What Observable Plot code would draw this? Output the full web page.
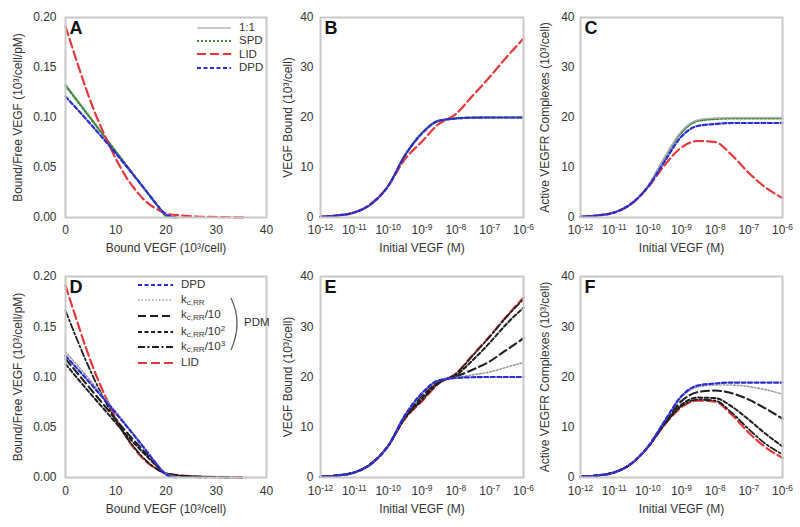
<!DOCTYPE html>
<html><head><meta charset="utf-8">
<script src="https://cdn.jsdelivr.net/npm/d3@7"></script>
<script src="https://cdn.jsdelivr.net/npm/@observablehq/plot@0.6"></script>
<style>
body{margin:0;background:#fff;}
#wrap{position:relative;width:800px;height:527px;overflow:hidden;font-family:"Liberation Sans",Arial,sans-serif;background:#fff;}
.panel{position:absolute;}
.panel svg{overflow:visible;}
.legend{position:absolute;font-size:11.5px;color:#333;line-height:1;}
.legend .row{display:flex;align-items:center;white-space:nowrap;}
.legend .row span{margin-left:8px;}
.legend sub{font-size:0.7em;vertical-align:-0.3em;}
.legend sup{font-size:0.7em;vertical-align:0.45em;}
</style></head><body><div id="wrap"></div>
<script>
// ---------- shared x (initial VEGF, M) ----------
const logX = [1e-12,3e-12,1e-11,3e-11,1e-10,3e-10,1e-9,3e-9,1e-8,3e-8,1e-7,3e-7,1e-6];
const logTicks = [1e-12,1e-11,1e-10,1e-9,1e-8,1e-7,1e-6];
const logTickLabels = ["10^-12","10^-11","10^-10","10^-9","10^-8","10^-7","10^-6"];
const linTicks = [0,10,20,30,40];
const scatTicks = [0,0.05,0.10,0.15,0.20];

// ---------- Panel A : Scatchard ----------
const A_one_x = [0,20,24];          const A_one_y = [0.133,0,0];
const A_SPD_x = [0,5,10,15,20,22];  const A_SPD_y = [0.132,0.099,0.066,0.033,0.001,0];
const A_DPD_x = [0,4,8,12,16,18,20,22];
const A_DPD_y = [0.121,0.099,0.076,0.052,0.027,0.014,0.003,0];
const A_LID_x = [0,2,4,6,8,10,12,14,16,18,20,23,26,30,36];
const A_LID_y = [0.191,0.160,0.130,0.103,0.080,0.059,0.041,0.027,0.016,0.009,0.004,0.002,0.001,0.0005,0];

// ---------- Panel B : VEGF bound ----------
const B_one = [0.15,0.4,1.0,2.6,6.3,12.3,17.0,19.4,19.85,20,20,20,20];
const B_SPD = [0.15,0.4,1.0,2.6,6.3,12.2,16.9,19.3,19.8,20,20,20,20];
const B_DPD = [0.15,0.4,1.0,2.6,6.3,12.2,16.8,19.3,19.8,19.95,20,20,20];
const B_LID = [0.15,0.4,1.0,2.7,6.3,11.5,15.2,18.6,20.7,24.2,28.1,31.9,35.8];

// ---------- Panel C : active complexes ----------
const C_one = [0.15,0.4,1.0,2.6,6.2,11.8,17.3,19.5,19.9,20,20,20,20];
const C_SPD = [0.15,0.4,1.0,2.6,6.2,11.7,17.0,19.3,19.7,19.8,19.8,19.8,19.8];
const C_DPD = [0.15,0.4,1.0,2.6,6.1,11.0,16.2,18.3,18.7,18.9,18.9,18.9,18.9];
const C_LID = [0.15,0.4,1.0,2.6,6.0,10.3,14.0,15.3,15.1,12.6,8.9,6.1,3.9];

// ---------- Panel D : Scatchard, PDM ----------
const D_DPD_x = A_DPD_x, D_DPD_y = A_DPD_y;
const D_kc_x = [0,4,8,12,16,18,20,22,23];
const D_kc_y = [0.125,0.102,0.078,0.053,0.028,0.015,0.004,0.001,0];
const D_kc10_x = [0,4,8,12,16,18,20,24,28];
const D_kc10_y = [0.118,0.094,0.070,0.046,0.024,0.013,0.004,0.001,0];
const D_kc100_x = [0,4,8,12,16,18,20,25,33];
const D_kc100_y = [0.113,0.089,0.066,0.043,0.022,0.012,0.004,0.001,0];
const D_kc1000_x = [0,2,4,6,8,10,12,14,16,18,20,24,30,35];
const D_kc1000_y = [0.166,0.141,0.117,0.095,0.075,0.057,0.041,0.028,0.017,0.009,0.004,0.0015,0.0005,0];
const D_LID_x = A_LID_x, D_LID_y = A_LID_y;

// ---------- Panel E : VEGF bound, PDM ----------
const E_DPD = B_DPD;
const E_kc = [0.15,0.4,1.0,2.6,6.3,12.1,16.6,19.2,19.9,20.4,21.0,21.9,22.9];
const E_kc10 = [0.15,0.4,1.0,2.6,6.3,12.0,16.3,19.1,20.1,21.4,23.1,25.3,27.7];
const E_kc100 = [0.15,0.4,1.0,2.6,6.3,11.8,15.8,18.9,20.3,23.2,26.8,30.4,33.8];
const E_kc1000 = [0.15,0.4,1.0,2.7,6.3,11.6,15.4,18.7,20.6,24.1,28.0,31.8,35.5];
const E_LID = B_LID;

// ---------- Panel F : active complexes, PDM ----------
const F_DPD = C_DPD;
const F_kc = [0.15,0.4,1.0,2.6,6.1,11.0,16.0,18.0,18.4,18.4,18.1,17.5,16.6];
const F_kc10 = [0.15,0.4,1.0,2.6,6.1,10.8,15.2,17.0,17.3,16.8,15.5,13.8,11.7];
const F_kc100 = [0.15,0.4,1.0,2.6,6.0,10.5,14.5,15.9,15.8,14.2,11.5,8.8,6.2];
const F_kc1000 = [0.15,0.4,1.0,2.6,6.0,10.4,14.2,15.5,15.3,13.0,9.6,6.8,4.6];
const F_LID = C_LID;

// ---------- styles ----------
const STY = {
  one:    {stroke:"#b4b4b4", dash:null,      width:1.6},
  SPD:    {stroke:"#3d8a3d", dash:"2,2",     width:2.2},
  LID:    {stroke:"#e5363c", dash:"9,4",     width:2.2},
  DPD:    {stroke:"#2a2ad2", dash:"4,2.5",   width:2.2},
  kc:     {stroke:"#9a9a9a", dash:"1.5,2",   width:1.6},
  kc10:   {stroke:"#1e1e1e", dash:"8,4",     width:2.1},
  kc100:  {stroke:"#1e1e1e", dash:"4,2.5",   width:2.0},
  kc1000: {stroke:"#1e1e1e", dash:"7,2.5,2,2.5", width:1.8}
};

const TEXT_COLOR = "#333";
const FONT = "Liberation Sans, Arial, sans-serif";

function supTicks(svg){
  d3.select(svg).selectAll("text").each(function(){
    const m = /^10\^(-?\d+)$/.exec(this.textContent);
    if (m) {
      const el = d3.select(this);
      el.text("10");
      el.append("tspan").attr("dy","-0.45em").attr("font-size","0.7em").text(m[1]);
    }
  });
}

function panel(cfg){
  const marks = cfg.series.map(s => {
    const st = STY[s.key];
    const rows = s.x.map((xv,i)=>({x:xv, y:s.y[i]}));
    return Plot.line(rows, {x:"x", y:"y", stroke:st.stroke, strokeWidth:st.width,
      strokeDasharray: st.dash || undefined, curve: s.curve || "monotone-x"});
  });
  const xOpts = cfg.logx
    ? {type:"log", domain:[1e-12,1e-6]}
    : {domain:[0,40]};
  const xTicks = cfg.logx ? logTicks : linTicks;
  const xFmt = cfg.logx ? (d => logTickLabels[logTicks.findIndex(t => Math.abs(Math.log10(t)-Math.log10(d))<1e-6)]) : (d => String(d));
  const yTicks = cfg.scat ? scatTicks : linTicks;
  const yFmt = cfg.scat ? d3.format(".2f") : (d => String(d));
  const svg = Plot.plot({
    width: cfg.w, height: cfg.h,
    marginLeft: cfg.ml, marginRight: cfg.mr, marginTop: cfg.mt, marginBottom: cfg.mb,
    style:{fontFamily:FONT, fontSize:"12px", color:TEXT_COLOR, background:"transparent", overflow:"visible"},
    x: xOpts,
    y: {domain: cfg.scat ? [0,0.2] : [0,40]},
    marks: [
      Plot.axisX({ticks:xTicks, tickFormat:xFmt, tickSize:0, tickPadding:cfg.xtp, fontSize:12,
        label:cfg.xlabel, labelAnchor:"center", labelArrow:"none", labelOffset:cfg.xlo}),
      Plot.axisY({ticks:yTicks, tickFormat:yFmt, tickSize:0, tickPadding:cfg.ytp, fontSize:12,
        label:cfg.ylabel, labelAnchor:"center", labelArrow:"none", labelOffset:cfg.ylo}),
      ...marks,
      Plot.frame({stroke:"#c8c8c8", strokeWidth:2}),
      Plot.text([cfg.letter], {text:d=>d, frameAnchor:"top-left", dx:4, dy:4, fontSize:18,
        fontWeight:"bold", fill:"#111", textAnchor:"start", lineAnchor:"top"})
    ]
  });
  supTicks(svg);
  const div = document.createElement("div");
  div.className = "panel";
  div.style.left = cfg.left + "px";
  div.style.top = cfg.top + "px";
  div.appendChild(svg);
  document.getElementById("wrap").appendChild(div);
}

const XL_S = "Bound VEGF (10³/cell)";
const XL_L = "Initial VEGF (M)";
const YL_S = "Bound/Free VEGF (10³/cell/pM)";
const YL_B = "VEGF Bound (10³/cell)";
const YL_C = "Active VEGFR Complexes (10³/cell)";

const top1 = {top:0, h:260, mt:17, mb:43, xlo:34, xtp:8};
const top2 = {top:260, h:267, mt:16, mb:50, xlo:35, xtp:9};
const colA = {left:0, w:268, ml:65, mr:2, ylo:52, ytp:9};
const colB = {left:268, w:262, ml:52, mr:7, ylo:37, ytp:7};
const colC = {left:530, w:270, ml:50, mr:18, ylo:40, ytp:6};

panel({...top1, ...colA, letter:"A", scat:true, xlabel:XL_S, ylabel:YL_S, series:[
  {key:"one", x:A_one_x, y:A_one_y, curve:"linear"},
  {key:"SPD", x:A_SPD_x, y:A_SPD_y, curve:"linear"},
  {key:"LID", x:A_LID_x, y:A_LID_y},
  {key:"DPD", x:A_DPD_x, y:A_DPD_y}]});
panel({...top1, ...colB, letter:"B", logx:true, xlabel:XL_L, ylabel:YL_B, series:[
  {key:"one", x:logX, y:B_one},
  {key:"SPD", x:logX, y:B_SPD},
  {key:"LID", x:logX, y:B_LID},
  {key:"DPD", x:logX, y:B_DPD}]});
panel({...top1, ...colC, letter:"C", logx:true, xlabel:XL_L, ylabel:YL_C, series:[
  {key:"SPD", x:logX, y:C_SPD},
  {key:"one", x:logX, y:C_one},
  {key:"LID", x:logX, y:C_LID},
  {key:"DPD", x:logX, y:C_DPD}]});
panel({...top2, ...colA, letter:"D", scat:true, xlabel:XL_S, ylabel:YL_S, series:[
  {key:"LID", x:D_LID_x, y:D_LID_y},
  {key:"kc1000", x:D_kc1000_x, y:D_kc1000_y},
  {key:"kc100", x:D_kc100_x, y:D_kc100_y},
  {key:"kc10", x:D_kc10_x, y:D_kc10_y},
  {key:"kc", x:D_kc_x, y:D_kc_y},
  {key:"DPD", x:D_DPD_x, y:D_DPD_y}]});
panel({...top2, ...colB, letter:"E", logx:true, xlabel:XL_L, ylabel:YL_B, series:[
  {key:"LID", x:logX, y:E_LID},
  {key:"kc1000", x:logX, y:E_kc1000},
  {key:"kc100", x:logX, y:E_kc100},
  {key:"kc10", x:logX, y:E_kc10},
  {key:"kc", x:logX, y:E_kc},
  {key:"DPD", x:logX, y:E_DPD}]});
panel({...top2, ...colC, letter:"F", logx:true, xlabel:XL_L, ylabel:YL_C, series:[
  {key:"LID", x:logX, y:F_LID},
  {key:"kc1000", x:logX, y:F_kc1000},
  {key:"kc100", x:logX, y:F_kc100},
  {key:"kc10", x:logX, y:F_kc10},
  {key:"kc", x:logX, y:F_kc},
  {key:"DPD", x:logX, y:F_DPD}]});

// ---------- legends ----------
function swatch(key, w){
  const st = STY[key];
  return `<svg width="${w}" height="10"><line x1="0" x2="${w}" y1="5" y2="5" stroke="${st.stroke}" stroke-width="${st.width}" ${st.dash?`stroke-dasharray="${st.dash}"`:""}/></svg>`;
}
function legend(left, top, rowH, w, items){
  const div = document.createElement("div");
  div.className = "legend";
  div.style.left = left + "px"; div.style.top = top + "px";
  div.innerHTML = items.map(([k,lab]) => `<div class="row" style="height:${rowH}px">${swatch(k,w)}<span>${lab}</span></div>`).join("");
  document.getElementById("wrap").appendChild(div);
}
const legA_keys = ["one","SPD","LID","DPD"];
const legA_labels = ["1:1","SPD","LID","DPD"];
legend(197, 21, 13.4, 34, legA_keys.map((k,i)=>[k, legA_labels[i]]));

const legD_keys = ["DPD","kc","kc10","kc100","kc1000","LID"];
const legD_labels = ["DPD","k<sub>c,RR</sub>","k<sub>c,RR</sub>/10","k<sub>c,RR</sub>/10<sup>2</sup>","k<sub>c,RR</sub>/10<sup>3</sup>","LID"];
legend(138, 277, 15.6, 35, legD_keys.map((k,i)=>[k, legD_labels[i]]));

// bracket + PDM
const br = document.createElement("div");
br.className = "legend";
br.style.left = "229px"; br.style.top = "296px";
br.innerHTML = `<svg width="16" height="58" style="position:absolute;left:0;top:0"><path d="M2,2 Q14,27 2,54" fill="none" stroke="#555" stroke-width="1.2"/></svg><span style="position:absolute;left:15px;top:21px">PDM</span>`;
document.getElementById("wrap").appendChild(br);
</script></body></html>
